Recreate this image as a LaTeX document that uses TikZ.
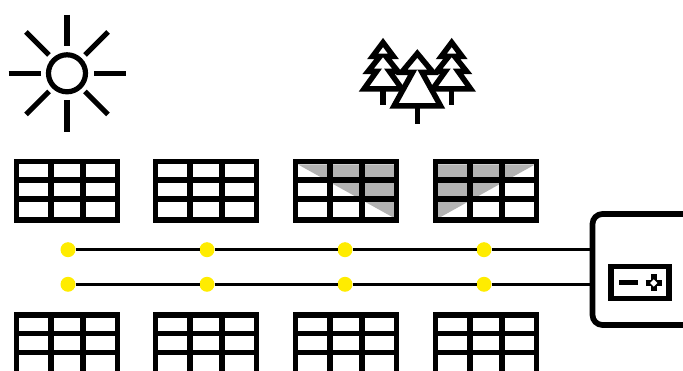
\documentclass[tikz,border=0pt]{standalone}
\usepackage{xcolor}
\usetikzlibrary{positioning}
\definecolor{dotyellow}{RGB}{255,236,0}
\definecolor{shadegray}{RGB}{179,179,179}
\tikzset{
    ray/.style={line width=5.2pt},
    sunring/.style={circle, draw, line width=5.2pt, minimum size=37pt, inner sep=0, outer sep=0},
    treeline/.style={line width=5.5pt, fill=white},
    trunk/.style={line width=5.2pt},
    gridline/.style={line width=5.5pt},
    shadow/.style={fill=shadegray},
    junction/.style={circle, fill=dotyellow, minimum size=15pt, inner sep=0, outer sep=0},
    wire/.style={line width=2.7pt},
    controller/.style={rectangle, draw, line width=5.7pt, rounded corners=10pt, minimum width=110pt, minimum height=111pt, inner sep=0, outer sep=0},
    meter/.style={rectangle, draw, line width=5.5pt, minimum width=58pt, minimum height=32pt, inner sep=0, outer sep=0},
    pvpanel/.pic={
        \draw[gridline] (0,0) rectangle (101,58.5);
        \draw[gridline] (34.5,0) -- (34.5,58.5);
        \draw[gridline] (66.5,0) -- (66.5,58.5);
        \draw[gridline] (0,18.5) -- (101,18.5);
        \draw[gridline] (0,37.5) -- (101,37.5);
    },
    smalltree/.pic={
        \draw[trunk] (0,85) -- (0,105);
        \draw[treeline] (0,42.5) -- (-10.5,56.5) -- (-3,56.5) -- (-15,71.5) -- (-6.5,71.5) -- (-19,89)
            -- (19,89) -- (6.5,71.5) -- (15,71.5) -- (3,56.5) -- (10.5,56.5) -- cycle;
    },
}
\begin{document}
\begin{tikzpicture}[x=1pt, y=-1pt]
    \useasboundingbox (0,0) rectangle (683,371);

    % sun
    \node[sunring] (sun) at (67,73.3) {};
    \draw[ray] (67,15) -- (67,46.5);
    \draw[ray] (67,100) -- (67,132);
    \draw[ray] (8.5,73.3) -- (40.5,73.3);
    \draw[ray] (94,73.3) -- (126,73.3);
    \draw[ray] (26,32) -- (49,55);
    \draw[ray] (108,32) -- (85,55);
    \draw[ray] (26,114.5) -- (49,91.5);
    \draw[ray] (108,114.5) -- (85,91.5);

    % trees
    \pic at (383,0) {smalltree};
    \pic at (451.7,0) {smalltree};
    \draw[trunk] (417.3,100) -- (417.3,124.5);
    \draw[treeline] (417.3,53.5) -- (401.5,72.5) -- (412.5,72.5) -- (394,106)
        -- (440.6,106) -- (422.1,72.5) -- (433.1,72.5) -- cycle;

    % shaded cells
    \fill[shadow] (298,164.5) -- (395,164.5) -- (395,218.5) -- cycle;
    \fill[shadow] (438,164.5) -- (535,164.5) -- (438,218.5) -- cycle;

    % panels
    \pic at (16.5,161.5) {pvpanel};
    \pic at (155.5,161.5) {pvpanel};
    \pic at (295.5,161.5) {pvpanel};
    \pic at (435.5,161.5) {pvpanel};
    \pic at (16.5,314.8) {pvpanel};
    \pic at (155.5,314.8) {pvpanel};
    \pic at (295.5,314.8) {pvpanel};
    \pic at (435.5,314.8) {pvpanel};

    % controller
    \node[controller] (ctrl) at (647.5,269.5) {};
    \node[meter] (mtr) at (640,282.5) {};
    \draw[line width=5.3pt] (619,282.7) -- (637.7,282.7);
    \draw[line width=6pt] (645.7,283) -- (661.7,283);
    \draw[line width=6pt] (653.7,274.5) -- (653.7,291.5);
    \fill[white] (653.7,279.3) -- (657.4,283) -- (653.7,286.7) -- (650,283) -- cycle;

    % junctions
    \node[junction] (a1) at (68,249.7) {};
    \node[junction] (a2) at (207,249.7) {};
    \node[junction] (a3) at (345,249.7) {};
    \node[junction] (a4) at (484,249.7) {};
    \node[junction] (b1) at (68,284.3) {};
    \node[junction] (b2) at (207,284.3) {};
    \node[junction] (b3) at (345,284.3) {};
    \node[junction] (b4) at (484,284.3) {};

    \draw[wire] (a1) -- (a2);
    \draw[wire] (a2) -- (a3);
    \draw[wire] (a3) -- (a4);
    \draw[wire] (a4) -- (a4 -| ctrl.west);
    \draw[wire] (b1) -- (b2);
    \draw[wire] (b2) -- (b3);
    \draw[wire] (b3) -- (b4);
    \draw[wire] (b4) -- (b4 -| ctrl.west);
\end{tikzpicture}
\end{document}
